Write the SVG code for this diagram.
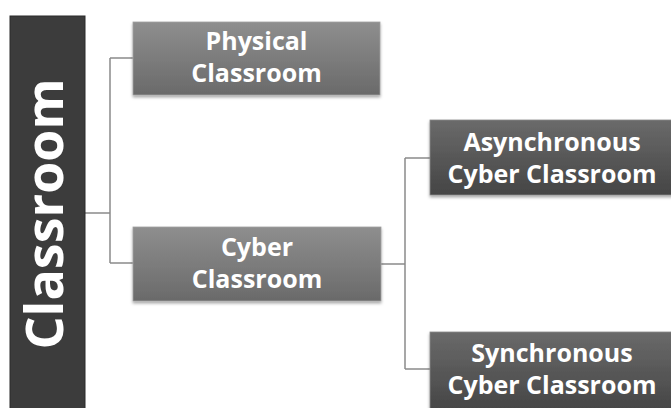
<svg xmlns="http://www.w3.org/2000/svg" width="671" height="408" viewBox="0 0 671 408">
<defs>
<linearGradient id="g1" x1="0" y1="0" x2="0" y2="1">
<stop offset="0" stop-color="#8e8e8e"/>
<stop offset="1" stop-color="#6a6a6a"/>
</linearGradient>
<linearGradient id="g2" x1="0" y1="0" x2="0" y2="1">
<stop offset="0" stop-color="#6a6a6a"/>
<stop offset="1" stop-color="#454545"/>
</linearGradient>
<filter id="sh" x="-10%" y="-10%" width="120%" height="130%">
<feDropShadow dx="0" dy="2" stdDeviation="1.5" flood-color="#000" flood-opacity="0.35"/>
</filter>
<style>
.t{font-family:"Open Sans","Liberation Sans",sans-serif;font-weight:bold;fill:#fff;text-anchor:middle;font-size:25px}
.c{fill:none;stroke:#8a8a8a;stroke-width:1.5}
.b1{fill:url(#g1);stroke:#a0a0a0;stroke-width:0.8;filter:url(#sh)}
.b2{fill:url(#g2);stroke:#8a8a8a;stroke-width:0.8;filter:url(#sh)}
</style>
</defs>
<rect width="671" height="408" fill="#fff"/>
<g id="connectors">
<path class="c" d="M85 213 H110 M110 58 V263 M110 58 H133 M110 263 H133"/>
<path class="c" d="M381 264 H405 M405 158 V369 M405 158 H430 M405 369 H430"/>
</g>
<g id="classroom">
<rect x="10" y="16" width="75" height="400" fill="#3c3c3c" stroke="#2a2a2a" stroke-width="1"/>
<text class="t" transform="translate(63,214) rotate(-90)" style="font-size:52px">Classroom</text>
</g>
<g id="physical">
<rect class="b1" x="133" y="22" width="247" height="73"/>
<text class="t" x="256.5" y="50">Physical</text>
<text class="t" x="256.5" y="82">Classroom</text>
</g>
<g id="cyber">
<rect class="b1" x="133" y="227" width="248" height="74"/>
<text class="t" x="257" y="256">Cyber</text>
<text class="t" x="257" y="288">Classroom</text>
</g>
<g id="async">
<rect class="b2" x="430" y="120" width="250" height="75"/>
<text class="t" x="552" y="151">Asynchronous</text>
<text class="t" x="552" y="183">Cyber Classroom</text>
</g>
<g id="sync">
<rect class="b2" x="430" y="332" width="250" height="80"/>
<text class="t" x="552" y="362">Synchronous</text>
<text class="t" x="552" y="394">Cyber Classroom</text>
</g>
</svg>
